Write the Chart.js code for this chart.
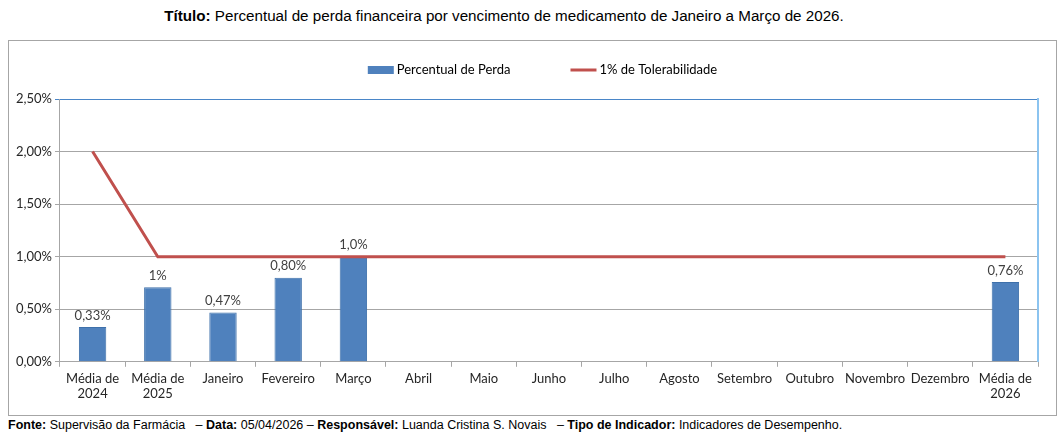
<!DOCTYPE html>
<html>
<head>
<meta charset="utf-8">
<script src="https://cdn.jsdelivr.net/npm/chart.js@4.4.1/dist/chart.umd.min.js"></script>
<style>
    body { margin: 0; background: #fff; width: 1059px; height: 436px; position: relative; overflow: hidden; font-family: "Liberation Sans", Arial, sans-serif; }
    .titulo { position: absolute; top: 7px; left: 0; width: 1008px; text-align: center; font-size: 15.2px; color: #000; }
    .chart-box { position: absolute; left: 8px; top: 40px; width: 1047px; height: 374px; border: 1px solid #a6a6a6; }
    .rodape { position: absolute; left: 8px; top: 418px; font-size: 12.5px; color: #000; white-space: pre; }
</style>
</head>
<body>
<div class="titulo"><b>Título:</b> Percentual de perda financeira por vencimento de medicamento de Janeiro a Março de 2026.</div>
<div class="chart-box"><canvas id="perdaChart"></canvas></div>
<div class="rodape"><b>Fonte:</b> Supervisão da Farmácia   – <b>Data:</b> 05/04/2026 – <b>Responsável:</b> Luanda Cristina S. Novais   – <b>Tipo de Indicador:</b> Indicadores de Desempenho.</div>
<script>
// Dados do gráfico
const categorias = [
    ['Média de', '2024'], ['Média de', '2025'], 'Janeiro', 'Fevereiro', 'Março', 'Abril', 'Maio',
    'Junho', 'Julho', 'Agosto', 'Setembro', 'Outubro', 'Novembro', 'Dezembro', ['Média de', '2026']
];
const percentualPerda = [0.33, 0.71, 0.47, 0.80, 1.0, null, null, null, null, null, null, null, null, null, 0.76];
const rotulosPerda = ['0,33%', '1%', '0,47%', '0,80%', '1,0%', '', '', '', '', '', '', '', '', '', '0,76%'];
const tolerancia = [2.0, 1.0, 1.0, 1.0, 1.0, 1.0, 1.0, 1.0, 1.0, 1.0, 1.0, 1.0, 1.0, 1.0, 1.0];
const ticksY = [0, 0.5, 1.0, 1.5, 2.0, 2.5];

const FONTE = 'Lato, "Liberation Sans", sans-serif';
const AZUL = '#4F81BD';
const VERMELHO = '#C0504D';

// rótulos acima das barras
const rotulosBarras = {
    id: 'rotulosBarras',
    afterDatasetsDraw(chart) {
        const ctx = chart.ctx;
        const meta = chart.getDatasetMeta(0);
        ctx.save();
        ctx.font = '13px ' + FONTE;
        ctx.fillStyle = '#404040';
        ctx.textAlign = 'center';
        ctx.textBaseline = 'bottom';
        meta.data.forEach((bar, i) => {
            if (percentualPerda[i] == null || !rotulosPerda[i]) return;
            ctx.fillText(rotulosPerda[i], bar.x, bar.y - 5);
        });
        ctx.restore();
    }
};

// legenda desenhada no canvas
const legendaTopo = {
    id: 'legendaTopo',
    afterDraw(chart) {
        const ctx = chart.ctx;
        const ds = chart.data.datasets;
        ctx.save();
        ctx.font = '13px ' + FONTE;
        ctx.textBaseline = 'middle';
        const w0 = ctx.measureText(ds[0].label).width;
        const w1 = ctx.measureText(ds[1].label).width;
        const total = 26 + 3 + w0 + 60 + 26 + 3 + w1;
        let x = chart.width / 2 + 10 - total / 2;
        const y = 29;
        ctx.fillStyle = AZUL;
        ctx.fillRect(x, y - 4, 26, 8);
        ctx.fillStyle = '#000';
        ctx.fillText(ds[0].label, x + 29, y);
        x += 29 + w0 + 60;
        ctx.strokeStyle = VERMELHO;
        ctx.lineWidth = 3;
        ctx.beginPath();
        ctx.moveTo(x, y);
        ctx.lineTo(x + 26, y);
        ctx.stroke();
        ctx.fillText(ds[1].label, x + 29, y);
        ctx.restore();
    }
};

new Chart(document.getElementById('perdaChart'), {
    type: 'bar',
    data: {
        labels: categorias,
        datasets: [
            {
                label: 'Percentual de Perda',
                data: percentualPerda,
                backgroundColor: AZUL,
                borderColor: '#3E70AA',
                borderWidth: 1,
                barPercentage: 0.42,
                categoryPercentage: 1,
                order: 2
            },
            {
                type: 'line',
                label: '1% de Tolerabilidade',
                data: tolerancia,
                borderColor: VERMELHO,
                borderWidth: 3,
                pointRadius: 0,
                tension: 0,
                fill: false,
                order: 1
            }
        ]
    },
    options: {
        responsive: true,
        maintainAspectRatio: false,
        animation: false,
        layout: { padding: { top: 58, left: 4, right: 18, bottom: 9 } },
        plugins: {
            legend: { display: false },
            tooltip: { enabled: false }
        },
        scales: {
            x: {
                offset: true,
                grid: { offset: true, drawOnChartArea: false, drawTicks: true, tickLength: 5, color: '#a6a6a6' },
                border: { color: '#a6a6a6' },
                ticks: { color: '#262626', font: { family: FONTE, size: 13 }, maxRotation: 0, autoSkip: false, padding: 4 }
            },
            y: {
                min: 0,
                max: 2.5,
                afterBuildTicks: (axis) => { axis.ticks = ticksY.map(v => ({ value: v })); },
                grid: {
                    color: (c) => c.tick && c.tick.value === 2.5 ? '#4A86C8' : '#a6a6a6',
                    tickLength: 5
                },
                border: { color: '#a6a6a6' },
                ticks: {
                    color: '#262626',
                    font: { family: FONTE, size: 13 },
                    padding: 3,
                    callback: (v) => v.toFixed(2).replace('.', ',') + '%'
                }
            },
            y2: {
                position: 'right',
                min: 0,
                max: 2.5,
                grid: { display: false, drawTicks: false },
                ticks: { display: false },
                border: { color: '#8CC4F0', width: 2 }
            }
        }
    },
    plugins: [rotulosBarras, legendaTopo]
});
</script>
</body>
</html>
